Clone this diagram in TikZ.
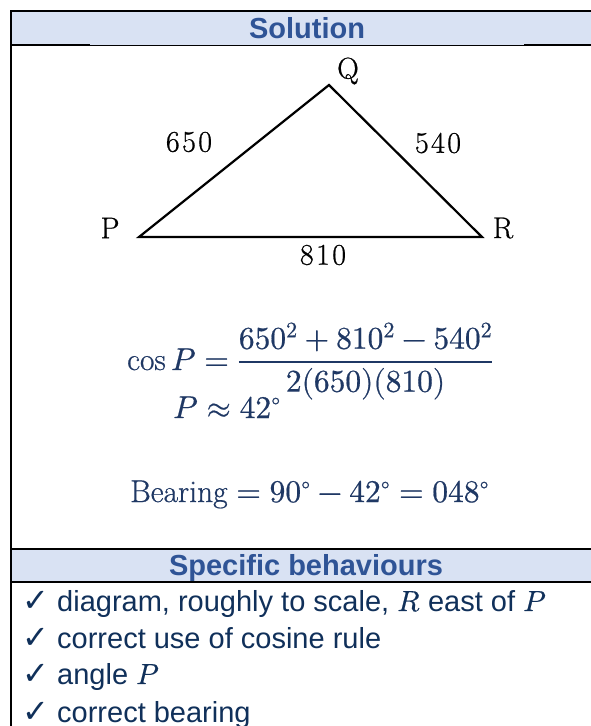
\documentclass[tikz,border=0pt]{standalone}
\usepackage{fontspec}
\usepackage{unicode-math}
\setmainfont{Latin Modern Roman}[FakeBold=0.6]
\setmathfont{Latin Modern Math}[FakeBold=0.6]
\setsansfont{Liberation Sans}
\newfontfamily\symfont{DejaVu Sans}
\newfontfamily\labfont{Latin Modern Roman}[LetterSpace=8, FakeBold=0.7]
\definecolor{headfill}{HTML}{D9E2F3}
\definecolor{headtext}{HTML}{2F5496}
\definecolor{mathcol}{HTML}{1F3864}
\definecolor{behcol}{HTML}{10305A}
\tikzset{
  border/.style={line width=1.8pt, black},
  innerline/.style={line width=0.8pt, black},
  tri/.style={line width=2.2pt, black, line join=miter},
  headtxt/.style={inner sep=0pt, anchor=base, text=headtext, font=\sffamily\bfseries\fontsize{29}{34}\selectfont},
  behtxt/.style={inner sep=0pt, anchor=base west, text=behcol, font=\sffamily\fontsize{29}{34}\selectfont},
  chk/.style={inner sep=0pt, anchor=base west, text=behcol, font=\symfont\fontsize{32}{36}\selectfont},
  lab/.style={inner sep=0pt, font=\labfont\fontsize{30}{34}\selectfont},
  mathtxt/.style={inner sep=0pt, anchor=base west, text=mathcol, font=\fontsize{31.5}{37}\selectfont}
}
\begin{document}
\begin{tikzpicture}[x=1pt,y=-1pt]
\useasboundingbox (0,0) rectangle (591,726);
\fill[white] (0,0) rectangle (591,726);
% header bands
\fill[headfill] (11,11) rectangle (591,45);
\fill[headfill] (11,549) rectangle (591,582);
% table lines
\draw[border] (591,11) -- (11,11) -- (11,726);
\draw[border] (11,45) -- (90,45);
\draw[innerline] (90,45) -- (524,45);
\draw[border] (524,45) -- (591,45);
\draw[border] (11,549) -- (591,549);
\draw[border] (11,582) -- (591,582);
% headers
\node[headtxt] (sol) at (307,38) {Solution};
\node[headtxt] (spec) at (306,575) {Specific behaviours};
% triangle
\coordinate (P) at (139,237);
\coordinate (Q) at (329,85);
\coordinate (R) at (482,237);
\draw[tri] (P) -- (Q) -- (R) -- cycle;
\node[lab] (lP) at (110,228) {P};
\node[lab] (lQ) at (348,71) {Q};
\node[lab] (lR) at (503,228) {R};
\node[lab] (s650) at (189,142) {650};
\node[lab] (s540) at (438,143) {540};
\node[lab] (s810) at (323,255) {810};
% working
\node[mathtxt] (eq1) at (127,370) {$\cos P = \dfrac{650^2+810^2-540^2}{2(650)(810)}$};
\node[mathtxt] (eq2) at (173,418) {$P \approx 42^\circ$};
\node[mathtxt] (eq3) at (130,502) {$\mathrm{Bearing} = 90^\circ - 42^\circ = 048^\circ$};
% behaviours
\node[chk] (c1) at (22,611) {✓};
\node[behtxt] (b1) at (57,611) {diagram, roughly to scale, $R$ east of $P$};
\node[chk] (c2) at (22,648) {✓};
\node[behtxt] (b2) at (57,648) {correct use of cosine rule};
\node[chk] (c3) at (22,684) {✓};
\node[behtxt] (b3) at (57,684) {angle $P$};
\node[chk] (c4) at (22,722) {✓};
\node[behtxt] (b4) at (57,722) {correct bearing};
\end{tikzpicture}
\end{document}
